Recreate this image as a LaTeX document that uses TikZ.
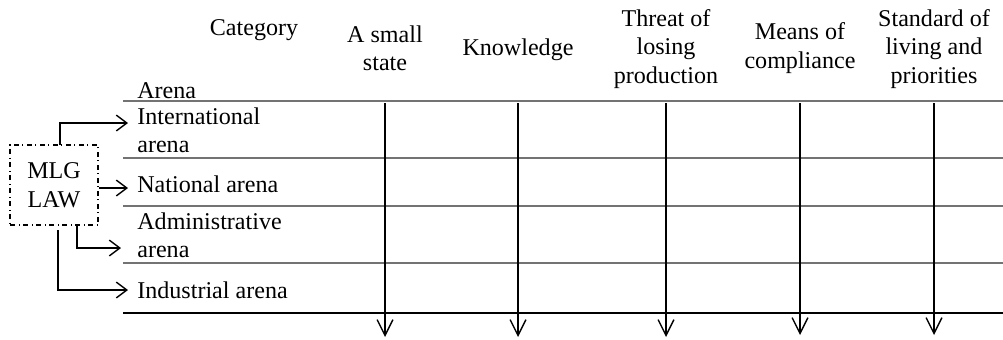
\documentclass[tikz,border=0pt]{standalone}
\usepackage{fontspec}
\setmainfont{Liberation Serif}
\usetikzlibrary{arrows.meta}
\begin{document}
\begin{tikzpicture}[x=0.02cm,y=-0.02cm,
  every node/.style={font=\fontsize{13.7}{16.2}\selectfont,inner sep=0pt},
  hdr/.style={align=center},
  rowlbl/.style={anchor=west,align=left},
  grid/.style={line width=0.7pt,black!55},
  flow/.style={line width=0.8pt,-{Straight Barb[length=9pt,width=9pt,line width=0.8pt]}},
  feed/.style={line width=0.8pt,-{Straight Barb[length=6pt,width=9pt,line width=0.8pt]}},
  lawbox/.style={draw,dash dot,line width=0.8pt,minimum width=1.76cm,minimum height=1.6cm,align=center}]
\useasboundingbox (0,0) rectangle (1003,339);
% header
\node (cat) at (254,30) {Category};
\node[anchor=west] (arenahdr) at (137,91) {Arena};
\node[hdr] (small) at (385,48) {A small\\state};
\node[hdr] (know) at (518,50) {Knowledge};
\node[hdr] (threat) at (666,49) {Threat of\\losing\\production};
\node[hdr] (means) at (800,48) {Means of\\compliance};
\node[hdr] (living) at (934,49) {Standard of\\living and\\priorities};
% rows
\draw[grid] (123,101) -- (1003,101);
\draw[grid] (123,158) -- (1003,158);
\draw[grid] (123,206) -- (1003,206);
\draw[grid] (123,263) -- (1003,263);
\draw[line width=0.9pt] (123,313) -- (1003,313);
\node[rowlbl] (intl) at (137,130) {International\\arena};
\node[rowlbl] (natl) at (137,184) {National arena};
\node[rowlbl] (admin) at (137,235) {Administrative\\arena};
\node[rowlbl] (indus) at (137,290) {Industrial arena};
% columns
\coordinate (smalltop) at (385,103);  \coordinate (smallend) at (385,337);
\coordinate (knowtop) at (518,103);   \coordinate (knowend) at (518,337);
\coordinate (threattop) at (666,103); \coordinate (threatend) at (666,337);
\coordinate (meanstop) at (800,103);  \coordinate (meansend) at (800,335);
\coordinate (livingtop) at (934,103); \coordinate (livingend) at (934,335);
\draw[flow] (smalltop) -- (smallend);
\draw[flow] (knowtop) -- (knowend);
\draw[flow] (threattop) -- (threatend);
\draw[flow] (meanstop) -- (meansend);
\draw[flow] (livingtop) -- (livingend);
% MLG law
\node[lawbox] (mlg) at (54,185) {MLG\\LAW};
\coordinate (tointl) at (128,123);
\coordinate (tonatl) at (128,188);
\coordinate (toadmin) at (121,248);
\coordinate (toindus) at (128,290);
\draw[feed] (60,145) |- (tointl);
\draw[feed] (mlg.east |- tonatl) -- (tonatl);
\draw[feed] (77,225) |- (toadmin);
\draw[feed] (58,230) |- (toindus);
\end{tikzpicture}
\end{document}
